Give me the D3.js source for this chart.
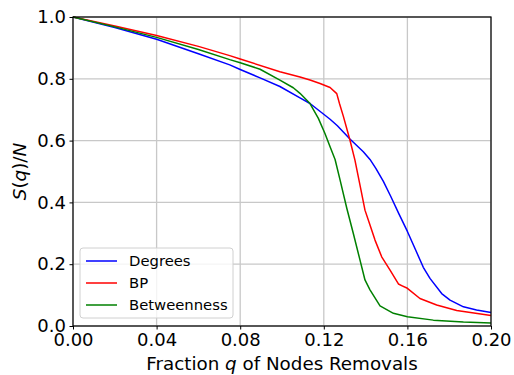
<!DOCTYPE html>
<html>
<head>
<meta charset="utf-8">
<script src="https://cdn.jsdelivr.net/npm/d3@7"></script>
<style>
  body { margin: 0; background: white; }
  svg { display: block; font-family: "DejaVu Sans", sans-serif; }
</style>
</head>
<body>
<div id="chart"></div>
<script>
// Series data: removal fraction q and S(q)/N
const degreesQ = [0, 0.02, 0.04, 0.06, 0.075, 0.08, 0.0895, 0.099, 0.1086, 0.1134, 0.123, 0.1265, 0.1325, 0.1389, 0.1421, 0.1449, 0.1485, 0.152, 0.156, 0.16, 0.164, 0.1676, 0.1708, 0.1764, 0.1804, 0.1868, 0.1931, 0.2];
const degreesS = [1.0, 0.966, 0.928, 0.881, 0.845, 0.83, 0.803, 0.775, 0.738, 0.72, 0.669, 0.648, 0.605, 0.564, 0.539, 0.51, 0.468, 0.42, 0.362, 0.306, 0.245, 0.19, 0.154, 0.105, 0.084, 0.062, 0.052, 0.044];

const bpQ = [0, 0.02, 0.04, 0.06, 0.075, 0.08, 0.099, 0.1086, 0.1134, 0.1182, 0.123, 0.1262, 0.1275, 0.1293, 0.1325, 0.1349, 0.1378, 0.1397, 0.1421, 0.1445, 0.1477, 0.1517, 0.1557, 0.1575, 0.16, 0.166, 0.174, 0.1836, 0.2];
const bpS = [1.0, 0.971, 0.940, 0.905, 0.875, 0.864, 0.823, 0.806, 0.796, 0.785, 0.772, 0.752, 0.72, 0.68, 0.602, 0.537, 0.44, 0.375, 0.327, 0.278, 0.224, 0.181, 0.136, 0.13, 0.122, 0.089, 0.068, 0.05, 0.034];

const betweenQ = [0, 0.02, 0.04, 0.06, 0.075, 0.08, 0.0895, 0.099, 0.1054, 0.1086, 0.1134, 0.1174, 0.1206, 0.123, 0.1254, 0.1278, 0.131, 0.1341, 0.1373, 0.1397, 0.1421, 0.1469, 0.1533, 0.16, 0.1724, 0.1868, 0.2];
const betweenS = [1.0, 0.968, 0.934, 0.895, 0.862, 0.852, 0.831, 0.796, 0.771, 0.753, 0.72, 0.672, 0.622, 0.58, 0.539, 0.472, 0.381, 0.30, 0.214, 0.149, 0.117, 0.065, 0.041, 0.030, 0.019, 0.013, 0.010];

const seriesNames = ["Degrees", "BP", "Betweenness"];
const seriesColors = ["#0000ff", "#ff0000", "#008000"];

const xTicks = [0, 0.04, 0.08, 0.12, 0.16, 0.20];
const yTicks = [0, 0.2, 0.4, 0.6, 0.8, 1.0];

function drawChart() {
    const W = 514, H = 375;
    const margin = {top: 17, right: 23, bottom: 49, left: 73};
    const width = W - margin.left - margin.right;
    const height = H - margin.top - margin.bottom;

    const svg = d3.select("#chart").append("svg")
        .attr("width", W)
        .attr("height", H);

    const g = svg.append("g")
        .attr("transform", `translate(${margin.left},${margin.top})`);

    const x = d3.scaleLinear().domain([0, 0.2]).range([0, width]);
    const y = d3.scaleLinear().domain([0, 1]).range([height, 0]);

    // grid
    g.append("g")
        .selectAll("line")
        .data(xTicks)
        .join("line")
        .attr("x1", d => x(d)).attr("x2", d => x(d))
        .attr("y1", 0).attr("y2", height)
        .attr("stroke", "#c8c8c8")
        .attr("stroke-width", 1.3);

    g.append("g")
        .selectAll("line")
        .data(yTicks)
        .join("line")
        .attr("x1", 0).attr("x2", width)
        .attr("y1", d => y(d)).attr("y2", d => y(d))
        .attr("stroke", "#c8c8c8")
        .attr("stroke-width", 1.3);

    // curves
    const series = [
        {q: degreesQ, s: degreesS},
        {q: bpQ, s: bpS},
        {q: betweenQ, s: betweenS}
    ];

    const line = d3.line()
        .x(d => x(d[0]))
        .y(d => y(d[1]));

    series.forEach((sr, i) => {
        const pts = sr.q.map((q, j) => [q, sr.s[j]]);
        g.append("path")
            .datum(pts)
            .attr("fill", "none")
            .attr("stroke", seriesColors[i])
            .attr("stroke-width", 1.5)
            .attr("stroke-linejoin", "round")
            .attr("d", line);
    });

    // frame
    g.append("rect")
        .attr("width", width)
        .attr("height", height)
        .attr("fill", "none")
        .attr("stroke", "black")
        .attr("stroke-width", 1.2);

    // axes
    const xAxis = g.append("g")
        .attr("transform", `translate(0,${height})`)
        .call(d3.axisBottom(x).tickValues(xTicks).tickFormat(d3.format(".2f")).tickSize(3.5).tickPadding(3.5));

    const yAxis = g.append("g")
        .call(d3.axisLeft(y).tickValues(yTicks).tickFormat(d3.format(".1f")).tickSize(3.5).tickPadding(3.5));

    [xAxis, yAxis].forEach(ax => {
        ax.select(".domain").remove();
        ax.selectAll(".tick line").attr("stroke", "black").attr("stroke-width", 1);
        ax.selectAll(".tick text")
            .attr("fill", "black")
            .style("font-family", "DejaVu Sans")
            .style("font-size", "18px");
    });

    // x label
    const xl = svg.append("text")
        .attr("x", margin.left + width / 2)
        .attr("y", 370)
        .attr("text-anchor", "middle")
        .style("font-size", "18.3px")
        .attr("fill", "black");
    xl.append("tspan").text("Fraction ");
    xl.append("tspan").style("font-style", "italic").text("q");
    xl.append("tspan").text(" of Nodes Removals");

    // y label
    const yl = svg.append("text")
        .attr("transform", `translate(26,${margin.top + height / 2}) rotate(-90)`)
        .attr("text-anchor", "middle")
        .style("font-size", "18.3px")
        .attr("fill", "black");
    yl.append("tspan").style("font-style", "italic").text("S");
    yl.append("tspan").text("(");
    yl.append("tspan").style("font-style", "italic").text("q");
    yl.append("tspan").text(")/");
    yl.append("tspan").style("font-style", "italic").text("N");

    // legend
    const legend = g.append("g")
        .attr("transform", `translate(7,${height - 78})`);

    legend.append("rect")
        .attr("width", 153)
        .attr("height", 70)
        .attr("rx", 3)
        .attr("fill", "white")
        .attr("fill-opacity", 0.8)
        .attr("stroke", "#d0d0d0")
        .attr("stroke-width", 1);

    seriesNames.forEach((name, i) => {
        const yy = 13 + i * 22;
        legend.append("line")
            .attr("x1", 6).attr("x2", 37)
            .attr("y1", yy).attr("y2", yy)
            .attr("stroke", seriesColors[i])
            .attr("stroke-width", 1.5);
        legend.append("text")
            .attr("x", 49)
            .attr("y", yy)
            .attr("dy", "0.35em")
            .style("font-size", "14.8px")
            .attr("fill", "black")
            .text(name);
    });
}

drawChart();
</script>
</body>
</html>
